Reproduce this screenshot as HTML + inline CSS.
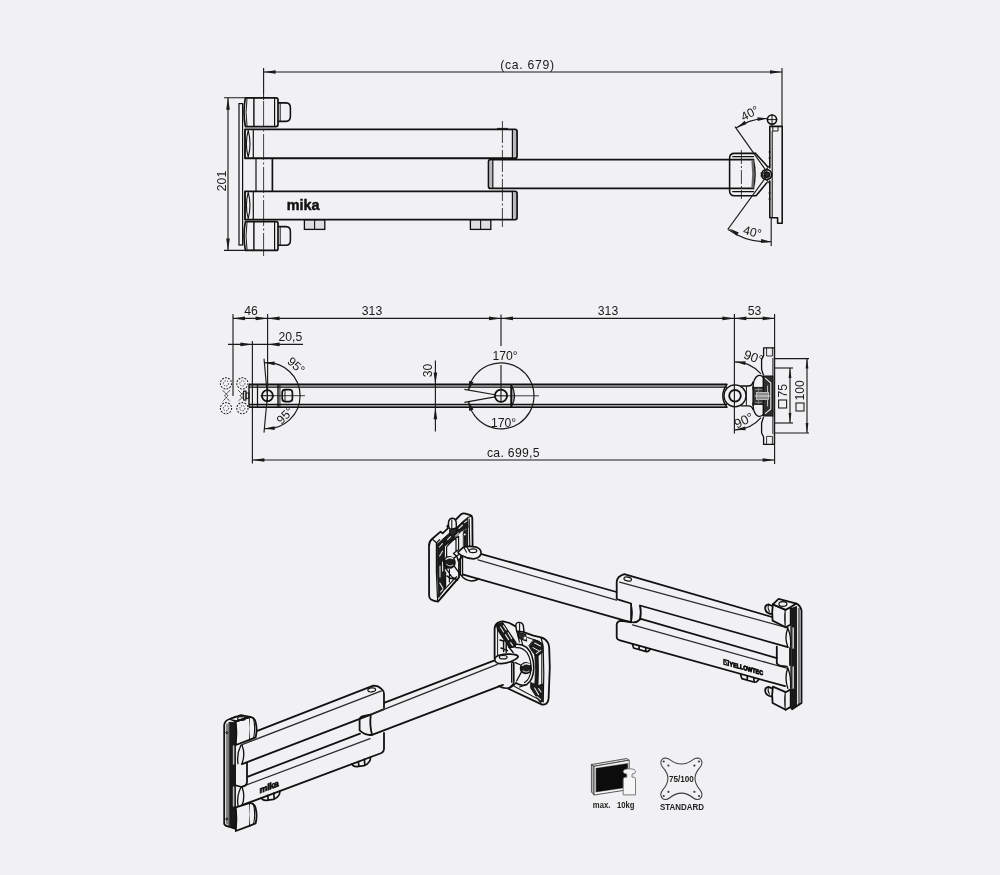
<!DOCTYPE html>
<html><head><meta charset="utf-8"><title>mika arm drawing</title>
<style>
html,body{margin:0;padding:0;background:#f1f1f4;}
body{width:1000px;height:875px;overflow:hidden;}
svg{display:block;font-family:"Liberation Sans",sans-serif;will-change:transform;}
</style></head><body>
<svg width="1000" height="875" viewBox="0 0 1000 875">
<rect width="1000" height="875" fill="#f1f1f4"/>
<g id="front-view">
<rect x="239.0" y="103.6" width="3.6" height="141.4" rx="0" fill="none" stroke="#111" stroke-width="1.2"/>
<path d="M245.4,97.9 H276 Q278,97.9 278,99.9 V124.6 Q278,126.6 276,126.6 H245.4 Q242.6,112.25 245.4,97.9 Z" fill="none" stroke="#111" stroke-width="1.68" stroke-linejoin="round" stroke-linecap="round" />
<path d="M247,98.9 Q245,112.25 247,125.6" fill="none" stroke="#111" stroke-width="0.96" stroke-linejoin="round" stroke-linecap="round" />
<line x1="253.9" y1="97.9" x2="253.9" y2="126.6" stroke="#111" stroke-width="1.44" />
<line x1="274.6" y1="97.9" x2="274.6" y2="126.6" stroke="#111" stroke-width="1.2" />
<path d="M278.4,102.9 H286 Q290.4,103.10000000000001 290.4,107.7 V116.60000000000001 Q290.4,121.2 286,121.4 H278.4" fill="none" stroke="#111" stroke-width="1.56" stroke-linejoin="round" stroke-linecap="round" />
<line x1="280.2" y1="102.9" x2="280.2" y2="121.4" stroke="#111" stroke-width="0.96" />
<path d="M245.4,221.6 H276 Q278,221.6 278,223.6 V248.4 Q278,250.4 276,250.4 H245.4 Q242.6,236.0 245.4,221.6 Z" fill="none" stroke="#111" stroke-width="1.68" stroke-linejoin="round" stroke-linecap="round" />
<path d="M247,222.6 Q245,236.0 247,249.4" fill="none" stroke="#111" stroke-width="0.96" stroke-linejoin="round" stroke-linecap="round" />
<line x1="253.9" y1="221.6" x2="253.9" y2="250.4" stroke="#111" stroke-width="1.44" />
<line x1="274.6" y1="221.6" x2="274.6" y2="250.4" stroke="#111" stroke-width="1.2" />
<path d="M278.4,226.6 H286 Q290.4,226.79999999999998 290.4,231.4 V240.39999999999998 Q290.4,245.0 286,245.2 H278.4" fill="none" stroke="#111" stroke-width="1.56" stroke-linejoin="round" stroke-linecap="round" />
<line x1="280.2" y1="226.6" x2="280.2" y2="245.2" stroke="#111" stroke-width="0.96" />
<path d="M245,129.4 H515 Q517,129.4 517,131.4 V156.2 Q517,158.2 515,158.2 H245 Z" fill="none" stroke="#111" stroke-width="1.86" stroke-linejoin="round" stroke-linecap="round" />
<line x1="514.6" y1="130.9" x2="514.6" y2="156.7" stroke="#b8b8bc" stroke-width="3.12" />
<line x1="512.4" y1="129.4" x2="512.4" y2="158.2" stroke="#111" stroke-width="1.2" />
<line x1="253.3" y1="129.4" x2="253.3" y2="158.2" stroke="#111" stroke-width="1.2" />
<path d="M248.2,130.4 Q244.6,143.8 248.2,157.2 Q251.8,143.8 248.2,130.4" fill="none" stroke="#111" stroke-width="1.08" stroke-linejoin="round" stroke-linecap="round" />
<path d="M245,191.4 H515 Q517,191.4 517,193.4 V217.6 Q517,219.6 515,219.6 H245 Z" fill="none" stroke="#111" stroke-width="1.86" stroke-linejoin="round" stroke-linecap="round" />
<line x1="514.6" y1="192.9" x2="514.6" y2="218.1" stroke="#b8b8bc" stroke-width="3.12" />
<line x1="512.4" y1="191.4" x2="512.4" y2="219.6" stroke="#111" stroke-width="1.2" />
<line x1="253.3" y1="191.4" x2="253.3" y2="219.6" stroke="#111" stroke-width="1.2" />
<path d="M248.2,192.4 Q244.6,205.5 248.2,218.6 Q251.8,205.5 248.2,192.4" fill="none" stroke="#111" stroke-width="1.08" stroke-linejoin="round" stroke-linecap="round" />
<line x1="256.0" y1="158.2" x2="256.0" y2="191.4" stroke="#111" stroke-width="1.2" />
<line x1="272.4" y1="158.2" x2="272.4" y2="191.4" stroke="#111" stroke-width="1.68" />
<path d="M753.4,159.6 H490.6 Q488.6,159.6 488.6,161.6 V186.4 Q488.6,188.4 490.6,188.4 H753.4" fill="none" stroke="#111" stroke-width="1.86" stroke-linejoin="round" stroke-linecap="round" />
<line x1="490.8" y1="161.2" x2="490.8" y2="186.8" stroke="#b8b8bc" stroke-width="2.88" />
<line x1="492.8" y1="159.6" x2="492.8" y2="188.4" stroke="#111" stroke-width="1.2" />
<rect x="304.4" y="220.0" width="20.4" height="9.4" rx="0" fill="#dedee2" stroke="#111" stroke-width="1.32"/>
<line x1="314.6" y1="220.0" x2="314.6" y2="229.4" stroke="#111" stroke-width="1.08" />
<rect x="470.4" y="220.0" width="20.4" height="9.4" rx="0" fill="#dedee2" stroke="#111" stroke-width="1.32"/>
<line x1="480.6" y1="220.0" x2="480.6" y2="229.4" stroke="#111" stroke-width="1.08" />
<text x="286.8" y="210.0" font-size="14.4" text-anchor="start" font-weight="bold" fill="#111" letter-spacing="0" stroke="#111" stroke-width="0.45">mika</text>
<path d="M755.6,153.4 H734.4 Q729.6,153.4 729.6,158.4 V190.8 Q729.6,195.8 734.4,195.8 H756 L767,182.6 M755.6,153.4 L767.4,166.4" fill="none" stroke="#111" stroke-width="1.56" stroke-linejoin="round" stroke-linecap="round" />
<path d="M732.6,156.6 H753.6 M732.6,191.6 H753.6" fill="none" stroke="#111" stroke-width="1.08" stroke-linejoin="round" stroke-linecap="round" />
<path d="M753.4,159.6 Q756.6,174 753.4,188.4" fill="none" stroke="#111" stroke-width="1.56" stroke-linejoin="round" stroke-linecap="round" />
<path d="M752.6,161 Q754.2,174 752.6,187" fill="none" stroke="#666" stroke-width="2.4" stroke-linejoin="round" stroke-linecap="round" />
<circle cx="766.6" cy="174.6" r="5.0" fill="none" stroke="#111" stroke-width="1.8" />
<circle cx="767.0" cy="174.8" r="2.6" fill="#2a2a2a" stroke="#111" stroke-width="1.2" />
<path d="M770,165 L761,176 M770,184 L761,173" fill="none" stroke="#111" stroke-width="1.08" stroke-linejoin="round" stroke-linecap="round" />
<path d="M769.8,126.4 H782.2 V223.2 H777.6 V217.8 H771 M769.8,126.4 V168 M769.8,181 V217.8" fill="none" stroke="#111" stroke-width="1.56" stroke-linejoin="round" stroke-linecap="round" />
<line x1="772.2" y1="131.0" x2="772.2" y2="217.8" stroke="#111" stroke-width="1.08" />
<path d="M772.8,126.4 V131 H778 V126.4" fill="none" stroke="#111" stroke-width="0.96" stroke-linejoin="round" stroke-linecap="round" />
<circle cx="769.6" cy="152.0" r="1.1" fill="#222" stroke="#111" stroke-width="0.0" />
<circle cx="769.6" cy="158.0" r="1.1" fill="#222" stroke="#111" stroke-width="0.0" />
<circle cx="769.6" cy="193.0" r="1.1" fill="#222" stroke="#111" stroke-width="0.0" />
<circle cx="769.6" cy="199.0" r="1.1" fill="#222" stroke="#111" stroke-width="0.0" />
<circle cx="772.0" cy="119.6" r="4.6" fill="none" stroke="#111" stroke-width="1.56" />
<line x1="772.0" y1="114.0" x2="772.0" y2="126.0" stroke="#111" stroke-width="0.96" />
<line x1="766.6" y1="119.6" x2="777.4" y2="119.6" stroke="#111" stroke-width="0.96" />
<line x1="497.0" y1="128.4" x2="508.0" y2="128.4" stroke="#111" stroke-width="0.96" />
<line x1="263.6" y1="68.0" x2="263.6" y2="256.0" stroke="#1a1a1a" stroke-width="0.84" stroke-dasharray="26 2.5 2 2.5"/>
<line x1="263.6" y1="68.0" x2="263.6" y2="100.0" stroke="#1a1a1a" stroke-width="0.96" />
<line x1="502.4" y1="121.0" x2="502.4" y2="227.0" stroke="#1a1a1a" stroke-width="0.84" stroke-dasharray="22 2.5 2 2.5"/>
<line x1="741.4" y1="150.0" x2="741.4" y2="199.0" stroke="#1a1a1a" stroke-width="0.84" stroke-dasharray="14 2 2 2"/>
<line x1="263.6" y1="72.0" x2="782.0" y2="72.0" stroke="#1a1a1a" stroke-width="1.14" />
<polygon points="263.6,72.0 275.6,73.8 275.6,70.2" fill="#1a1a1a"/>
<polygon points="782.0,72.0 770.0,70.2 770.0,73.8" fill="#1a1a1a"/>
<line x1="782.0" y1="68.0" x2="782.0" y2="127.0" stroke="#1a1a1a" stroke-width="1.14" />
<text x="527.5" y="69.2" font-size="12.2" text-anchor="middle" font-weight="normal" fill="#1a1a1a" letter-spacing="0.7" >(ca. 679)</text>
<line x1="224.0" y1="97.8" x2="262.0" y2="97.8" stroke="#1a1a1a" stroke-width="1.14" />
<line x1="224.0" y1="250.4" x2="262.0" y2="250.4" stroke="#1a1a1a" stroke-width="1.14" />
<line x1="228.0" y1="97.8" x2="228.0" y2="250.4" stroke="#1a1a1a" stroke-width="1.14" />
<polygon points="228.0,97.8 226.2,109.8 229.8,109.8" fill="#1a1a1a"/>
<polygon points="228.0,250.4 229.8,238.4 226.2,238.4" fill="#1a1a1a"/>
<text x="225.6" y="181.0" font-size="12.2" text-anchor="middle" font-weight="normal" fill="#1a1a1a" letter-spacing="0" transform="rotate(-90 225.6 181.0)" >201</text>
<line x1="735.0" y1="126.6" x2="767.0" y2="172.0" stroke="#1a1a1a" stroke-width="1.2" />
<path d="M736.0,128.0 A55.5,55.5 0 0 1 768.0,118.5" fill="none" stroke="#1a1a1a" stroke-width="1.2"/>
<polygon points="737.2,127.8 746.6,123.9 744.6,120.8" fill="#1a1a1a"/>
<polygon points="767.5,118.4 757.4,117.2 757.7,121.0" fill="#1a1a1a"/>
<text x="751.6" y="117.0" font-size="12.2" text-anchor="middle" font-weight="normal" fill="#1a1a1a" letter-spacing="0" transform="rotate(-27 751.6 117.0)" >40°</text>
<line x1="766.8" y1="176.0" x2="727.7" y2="229.5" stroke="#1a1a1a" stroke-width="1.2" />
<line x1="771.2" y1="217.8" x2="771.2" y2="246.0" stroke="#1a1a1a" stroke-width="1.14" />
<path d="M728.2,229.4 A66.5,66.5 0 0 0 770.9,241.7" fill="none" stroke="#1a1a1a" stroke-width="1.2"/>
<polygon points="729.4,228.6 736.6,235.8 738.8,232.6" fill="#1a1a1a"/>
<polygon points="771.0,241.7 761.2,239.1 760.9,242.9" fill="#1a1a1a"/>
<text x="751.4" y="236.0" font-size="12.2" text-anchor="middle" font-weight="normal" fill="#1a1a1a" letter-spacing="0" transform="rotate(14 751.4 236.0)" >40°</text>
</g>
<g id="top-view">
<rect x="249" y="384.6" width="478" height="2.8" fill="#a4a4a8"/><rect x="249" y="404.2" width="478" height="2.8" fill="#a4a4a8"/>
<line x1="249.0" y1="384.4" x2="727.0" y2="384.4" stroke="#111" stroke-width="1.56" />
<line x1="249.0" y1="387.2" x2="727.0" y2="387.2" stroke="#111" stroke-width="1.08" />
<line x1="249.0" y1="404.4" x2="727.0" y2="404.4" stroke="#111" stroke-width="1.08" />
<line x1="249.0" y1="407.2" x2="727.0" y2="407.2" stroke="#111" stroke-width="1.56" />
<line x1="249.0" y1="384.4" x2="249.0" y2="407.2" stroke="#111" stroke-width="1.44" />
<line x1="257.5" y1="384.4" x2="257.5" y2="407.2" stroke="#111" stroke-width="1.2" />
<line x1="278.0" y1="384.4" x2="278.0" y2="407.2" stroke="#111" stroke-width="1.44" />
<line x1="279.9" y1="384.4" x2="279.9" y2="407.2" stroke="#111" stroke-width="0.96" />
<circle cx="267.4" cy="395.7" r="5.5" fill="none" stroke="#111" stroke-width="1.8" />
<line x1="267.4" y1="389.0" x2="267.4" y2="402.4" stroke="#111" stroke-width="1.08" />
<line x1="260.6" y1="395.7" x2="274.0" y2="395.7" stroke="#111" stroke-width="1.08" />
<rect x="282.2" y="389.6" width="10.2" height="12.0" rx="3" fill="none" stroke="#111" stroke-width="1.68"/>
<line x1="285.0" y1="389.6" x2="285.0" y2="401.6" stroke="#111" stroke-width="0.96" />
<rect x="243.6" y="391.2" width="2.4" height="8.8" rx="0" fill="none" stroke="#111" stroke-width="1.08"/>
<rect x="246.0" y="393.0" width="3.0" height="5.4" rx="0" fill="none" stroke="#111" stroke-width="0.96"/>
<circle cx="226.0" cy="383.4" r="5.6" fill="none" stroke="#222" stroke-width="1.08" stroke-dasharray="1.8 1.3"/>
<circle cx="226.0" cy="383.4" r="2.6" fill="none" stroke="#333" stroke-width="0.96" stroke-dasharray="1.3 1.3"/>
<circle cx="242.4" cy="383.4" r="5.6" fill="none" stroke="#222" stroke-width="1.08" stroke-dasharray="1.8 1.3"/>
<circle cx="242.4" cy="383.4" r="2.6" fill="none" stroke="#333" stroke-width="0.96" stroke-dasharray="1.3 1.3"/>
<circle cx="226.0" cy="408.2" r="5.6" fill="none" stroke="#222" stroke-width="1.08" stroke-dasharray="1.8 1.3"/>
<circle cx="226.0" cy="408.2" r="2.6" fill="none" stroke="#333" stroke-width="0.96" stroke-dasharray="1.3 1.3"/>
<circle cx="242.4" cy="408.2" r="5.6" fill="none" stroke="#222" stroke-width="1.08" stroke-dasharray="1.8 1.3"/>
<circle cx="242.4" cy="408.2" r="2.6" fill="none" stroke="#333" stroke-width="0.96" stroke-dasharray="1.3 1.3"/>
<path d="M223,390.6 L228,395.8 L223,401 M229.6,390.6 L224.6,395.8 L229.6,401 M238.6,390.6 L243.6,395.8 L238.6,401 M245,390.6 L240,395.8 L245,401" fill="none" stroke="#333" stroke-width="0.96" stroke-linejoin="round" stroke-linecap="round" stroke-dasharray="1.5 1.3"/>
<circle cx="501.0" cy="395.8" r="6.1" fill="none" stroke="#111" stroke-width="1.8" />
<line x1="501.0" y1="389.0" x2="501.0" y2="402.6" stroke="#111" stroke-width="1.08" />
<line x1="494.0" y1="395.8" x2="508.0" y2="395.8" stroke="#111" stroke-width="1.08" />
<line x1="511.0" y1="384.4" x2="511.0" y2="407.2" stroke="#111" stroke-width="1.44" />
<path d="M511.6,385.4 Q517.5,396 511.6,406.4 Z" fill="#b4b4b8" stroke="#111" stroke-width="1.2" stroke-linejoin="round" stroke-linecap="round" />
<line x1="508.0" y1="395.8" x2="539.0" y2="395.8" stroke="#1a1a1a" stroke-width="0.84" />
<path d="M727,384.4 Q722.8,390 722.8,395.8 Q722.8,402 727,407.2" fill="none" stroke="#111" stroke-width="1.44" stroke-linejoin="round" stroke-linecap="round" />
<circle cx="735.0" cy="395.8" r="11" fill="none" stroke="#111" stroke-width="1.32" />
<circle cx="735.0" cy="395.8" r="5.8" fill="none" stroke="#111" stroke-width="1.86" />
<path d="M741,386 H748 Q752,386 753,382 M741,405.8 H748 Q752,405.8 753,409.6" fill="none" stroke="#111" stroke-width="1.32" stroke-linejoin="round" stroke-linecap="round" />
<line x1="746.4" y1="386.0" x2="746.4" y2="405.8" stroke="#111" stroke-width="0.96" />
<path d="M753,389 Q753,378 758,375.6 Q762,374.6 763.4,378 V414 Q762,417 758,416.2 Q753,414 753,403" fill="none" stroke="#111" stroke-width="1.32" stroke-linejoin="round" stroke-linecap="round" />
<path d="M753,386 V405.8" fill="none" stroke="#111" stroke-width="1.2" stroke-linejoin="round" stroke-linecap="round" />
<rect x="753.6" y="387.4" width="9.8" height="17.0" rx="0" fill="#3a3a3a" stroke="#111" stroke-width="0.96"/>
<path d="M763.4,376 H773 V416 H763.4 Z" fill="#2e2e2e" stroke="#111" stroke-width="1.2" stroke-linejoin="round" stroke-linecap="round" />
<path d="M765.4,378.4 L770.8,383 V409 L765.4,413.4" fill="none" stroke="#e8e8e8" stroke-width="1.08" stroke-linejoin="round" stroke-linecap="round" />
<path d="M767.6,386 V392 M767.6,400 V406" fill="none" stroke="#ccc" stroke-width="0.96" stroke-linejoin="round" stroke-linecap="round" />
<rect x="756.6" y="392.4" width="11.8" height="7.2" rx="0" fill="#8a8a8a" stroke="#ddd" stroke-width="0.72"/>
<line x1="754.6" y1="396.0" x2="770.6" y2="396.0" stroke="#eee" stroke-width="0.84" />
<path d="M755.4,389.6 H762 M755.4,402.4 H762 M758.6,388 V404" fill="none" stroke="#999" stroke-width="0.72" stroke-linejoin="round" stroke-linecap="round" />
<path d="M763.6,347.8 H774.4 V444.4 H763.6 V437 L761.6,433 V423 L763.4,417.4 M763.4,375 L761.6,369.4 V359.6 L763.6,355.6 V347.8" fill="none" stroke="#111" stroke-width="1.32" stroke-linejoin="round" stroke-linecap="round" />
<path d="M766.6,347.8 V356 H772.4 V347.8 M766.6,444.4 V436.4 H772.4 V444.4" fill="none" stroke="#111" stroke-width="0.84" stroke-linejoin="round" stroke-linecap="round" />
<line x1="772.8" y1="358.0" x2="772.8" y2="376.0" stroke="#111" stroke-width="0.84" />
<line x1="772.8" y1="416.0" x2="772.8" y2="434.0" stroke="#111" stroke-width="0.84" />
<line x1="233.0" y1="318.4" x2="774.6" y2="318.4" stroke="#1a1a1a" stroke-width="1.14" />
<line x1="233.0" y1="314.0" x2="233.0" y2="396.0" stroke="#1a1a1a" stroke-width="1.14" />
<line x1="267.6" y1="314.0" x2="267.6" y2="390.0" stroke="#1a1a1a" stroke-width="1.14" />
<line x1="501.0" y1="314.4" x2="501.0" y2="346.0" stroke="#1a1a1a" stroke-width="1.14" />
<line x1="501.0" y1="365.0" x2="501.0" y2="390.0" stroke="#1a1a1a" stroke-width="1.14" />
<line x1="734.4" y1="314.0" x2="734.4" y2="433.6" stroke="#1a1a1a" stroke-width="1.14" />
<line x1="774.6" y1="314.0" x2="774.6" y2="464.0" stroke="#1a1a1a" stroke-width="1.14" />
<polygon points="233.0,318.4 245.0,320.2 245.0,316.6" fill="#1a1a1a"/>
<polygon points="267.6,318.4 255.6,316.6 255.6,320.2" fill="#1a1a1a"/>
<polygon points="267.6,318.4 279.6,320.2 279.6,316.6" fill="#1a1a1a"/>
<polygon points="501.0,318.4 489.0,316.6 489.0,320.2" fill="#1a1a1a"/>
<polygon points="501.0,318.4 513.0,320.2 513.0,316.6" fill="#1a1a1a"/>
<polygon points="734.4,318.4 722.4,316.6 722.4,320.2" fill="#1a1a1a"/>
<polygon points="734.4,318.4 746.4,320.2 746.4,316.6" fill="#1a1a1a"/>
<polygon points="774.6,318.4 762.6,316.6 762.6,320.2" fill="#1a1a1a"/>
<text x="251.0" y="315.4" font-size="12.2" text-anchor="middle" font-weight="normal" fill="#1a1a1a" letter-spacing="0" >46</text>
<text x="372.0" y="315.4" font-size="12.2" text-anchor="middle" font-weight="normal" fill="#1a1a1a" letter-spacing="0" >313</text>
<text x="608.0" y="315.4" font-size="12.2" text-anchor="middle" font-weight="normal" fill="#1a1a1a" letter-spacing="0" >313</text>
<text x="754.6" y="315.4" font-size="12.2" text-anchor="middle" font-weight="normal" fill="#1a1a1a" letter-spacing="0" >53</text>
<line x1="228.0" y1="344.4" x2="303.0" y2="344.4" stroke="#1a1a1a" stroke-width="1.14" />
<line x1="252.4" y1="341.0" x2="252.4" y2="463.6" stroke="#1a1a1a" stroke-width="1.14" />
<polygon points="252.4,344.4 240.4,342.6 240.4,346.2" fill="#1a1a1a"/>
<polygon points="267.6,344.4 279.6,346.2 279.6,342.6" fill="#1a1a1a"/>
<text x="290.4" y="341.4" font-size="12.2" text-anchor="middle" font-weight="normal" fill="#1a1a1a" letter-spacing="0" >20,5</text>
<path d="M264.5,362.8 A33,33 0 1 1 264.5,428.6" fill="none" stroke="#1a1a1a" stroke-width="1.2"/>
<line x1="267.4" y1="395.7" x2="264.0" y2="358.8" stroke="#1a1a1a" stroke-width="1.14" />
<line x1="267.4" y1="395.7" x2="264.0" y2="432.6" stroke="#1a1a1a" stroke-width="1.14" />
<polygon points="264.6,362.8 274.5,365.2 274.7,361.4" fill="#1a1a1a"/>
<polygon points="264.6,428.6 274.7,430.0 274.5,426.2" fill="#1a1a1a"/>
<line x1="273.0" y1="395.7" x2="305.0" y2="395.7" stroke="#1a1a1a" stroke-width="0.84" />
<text x="293.4" y="368.6" font-size="12.2" text-anchor="middle" font-weight="normal" fill="#1a1a1a" letter-spacing="0" transform="rotate(42 293.4 368.6)" >95°</text>
<text x="288.0" y="418.4" font-size="12.2" text-anchor="middle" font-weight="normal" fill="#1a1a1a" letter-spacing="0" transform="rotate(-45 288.0 418.4)" >95°</text>
<path d="M468.5,390.1 A33,33 0 1 1 468.5,401.5" fill="none" stroke="#1a1a1a" stroke-width="1.2"/>
<line x1="495.0" y1="394.7" x2="464.4" y2="389.4" stroke="#1a1a1a" stroke-width="1.14" />
<line x1="495.0" y1="396.9" x2="464.4" y2="402.4" stroke="#1a1a1a" stroke-width="1.14" />
<polygon points="468.6,390.0 473.6,382.2 469.2,380.7" fill="#1a1a1a"/>
<polygon points="468.6,401.6 469.2,410.9 473.6,409.4" fill="#1a1a1a"/>
<text x="505.0" y="360.0" font-size="12.2" text-anchor="middle" font-weight="normal" fill="#1a1a1a" letter-spacing="0" >170°</text>
<text x="503.5" y="427.0" font-size="12.2" text-anchor="middle" font-weight="normal" fill="#1a1a1a" letter-spacing="0" >170°</text>
<line x1="435.4" y1="360.4" x2="435.4" y2="431.6" stroke="#1a1a1a" stroke-width="1.14" />
<polygon points="435.4,384.4 437.2,372.4 433.6,372.4" fill="#1a1a1a"/>
<polygon points="435.4,407.2 433.6,419.2 437.2,419.2" fill="#1a1a1a"/>
<text x="432.0" y="370.5" font-size="12.2" text-anchor="middle" font-weight="normal" fill="#1a1a1a" letter-spacing="0" transform="rotate(-90 432.0 370.5)" >30</text>
<line x1="252.4" y1="460.0" x2="774.6" y2="460.0" stroke="#1a1a1a" stroke-width="1.14" />
<polygon points="252.4,460.0 264.4,461.8 264.4,458.2" fill="#1a1a1a"/>
<polygon points="774.6,460.0 762.6,458.2 762.6,461.8" fill="#1a1a1a"/>
<text x="513.4" y="457.2" font-size="12.2" text-anchor="middle" font-weight="normal" fill="#1a1a1a" letter-spacing="0.3" >ca. 699,5</text>
<path d="M735.0,361.8 A34,34 0 0 1 761.0,373.9" fill="none" stroke="#1a1a1a" stroke-width="1.2"/>
<path d="M735.0,429.8 A34,34 0 0 0 761.0,417.7" fill="none" stroke="#1a1a1a" stroke-width="1.2"/>
<polygon points="735.5,361.8 745.1,365.1 745.7,361.3" fill="#1a1a1a"/>
<polygon points="735.5,429.8 745.7,430.3 745.1,426.5" fill="#1a1a1a"/>
<text x="752.0" y="361.4" font-size="13" text-anchor="middle" font-weight="normal" fill="#1a1a1a" letter-spacing="0" transform="rotate(20 752.0 361.4)" >90°</text>
<text x="745.6" y="424.5" font-size="13" text-anchor="middle" font-weight="normal" fill="#1a1a1a" letter-spacing="0" transform="rotate(-25 745.6 424.5)" >90°</text>
<line x1="775.0" y1="368.0" x2="793.0" y2="368.0" stroke="#1a1a1a" stroke-width="1.14" />
<line x1="775.0" y1="423.0" x2="793.0" y2="423.0" stroke="#1a1a1a" stroke-width="1.14" />
<line x1="790.0" y1="368.0" x2="790.0" y2="423.0" stroke="#1a1a1a" stroke-width="1.14" />
<polygon points="790.0,368.0 788.6,378.0 791.4,378.0" fill="#1a1a1a"/>
<polygon points="790.0,423.0 791.4,413.0 788.6,413.0" fill="#1a1a1a"/>
<line x1="775.0" y1="358.6" x2="809.0" y2="358.6" stroke="#1a1a1a" stroke-width="1.14" />
<line x1="775.0" y1="433.0" x2="809.0" y2="433.0" stroke="#1a1a1a" stroke-width="1.14" />
<line x1="807.0" y1="358.6" x2="807.0" y2="433.0" stroke="#1a1a1a" stroke-width="1.14" />
<polygon points="807.0,358.6 805.6,368.6 808.4,368.6" fill="#1a1a1a"/>
<polygon points="807.0,433.0 808.4,423.0 805.6,423.0" fill="#1a1a1a"/>
<rect x="778.6" y="400.0" width="8.0" height="8.0" rx="0" fill="none" stroke="#1a1a1a" stroke-width="1.08"/>
<text x="787.0" y="397.5" font-size="12.2" text-anchor="start" font-weight="normal" fill="#1a1a1a" letter-spacing="0" transform="rotate(-90 787.0 397.5)" >75</text>
<rect x="796.0" y="403.0" width="8.0" height="8.0" rx="0" fill="none" stroke="#1a1a1a" stroke-width="1.08"/>
<text x="804.4" y="400.5" font-size="12.2" text-anchor="start" font-weight="normal" fill="#1a1a1a" letter-spacing="0" transform="rotate(-90 804.4 400.5)" >100</text>
</g>
<g id="iso-upper">
<path d="M481.5,554.1 L616.5,592 M463.4,574.6 L631.1,622.4" fill="none" stroke="#111" stroke-width="1.8" stroke-linejoin="round" stroke-linecap="round" />
<path d="M478,559.8 L616.5,600.2" fill="none" stroke="#2a2a2a" stroke-width="1.26" stroke-linejoin="round" stroke-linecap="round" />
<path d="M616.7,598.4 V582 Q616.9,576.4 624.3,574.2 L772,617 M616.7,598.4 Q617,599.4 620,600.2 L631,603.5" fill="none" stroke="#111" stroke-width="1.8" stroke-linejoin="round" stroke-linecap="round" />
<path d="M619.5,582.2 L787.8,627.9" fill="none" stroke="#2a2a2a" stroke-width="1.26" stroke-linejoin="round" stroke-linecap="round" />
<path d="M640,605.5 L787.8,647.1" fill="none" stroke="#111" stroke-width="1.8" stroke-linejoin="round" stroke-linecap="round" />
<ellipse cx="627.7" cy="579.0" rx="3.8" ry="2.0" fill="none" stroke="#111" stroke-width="1.2" transform="rotate(12 627.7 579.0)"/>
<path d="M631.1,604.2 V622 Q636,623.5 640,619.5 Q641.6,612 640,605.8" fill="none" stroke="#111" stroke-width="1.8" stroke-linejoin="round" stroke-linecap="round" />
<path d="M631.1,604.2 Q633.5,613 631.1,622" fill="none" stroke="#111" stroke-width="1.08" stroke-linejoin="round" stroke-linecap="round" />
<path d="M640,618.6 L776.8,658.1" fill="none" stroke="#111" stroke-width="1.8" stroke-linejoin="round" stroke-linecap="round" />
<path d="M616.7,624.5 V637 Q616.9,639.6 620,640.4 L785,686.2 M616.7,624.5 Q617.2,621 621,620.8 L631.1,622" fill="none" stroke="#111" stroke-width="1.8" stroke-linejoin="round" stroke-linecap="round" />
<path d="M632.5,624.8 L787.8,668.5" fill="none" stroke="#2a2a2a" stroke-width="1.26" stroke-linejoin="round" stroke-linecap="round" />
<path d="M632.4,643.8 L633.6,648.0 L646.4,651.5999999999999 Q648.0,651.8 649.0,650.5999999999999 L650.4,649.0 M639.0,645.8 L639.1999999999999,649.5999999999999 M645.6,647.5999999999999 L646.0,651.4" fill="none" stroke="#111" stroke-width="1.68" stroke-linejoin="round" stroke-linecap="round" />
<path d="M740.6,674.4 L741.8000000000001,678.6 L754.6,682.1999999999999 Q756.2,682.4 757.2,681.1999999999999 L758.6,679.6 M747.2,676.4 L747.4,680.1999999999999 M753.8000000000001,678.1999999999999 L754.2,682.0" fill="none" stroke="#111" stroke-width="1.68" stroke-linejoin="round" stroke-linecap="round" />
<g transform="translate(723.4,658.9) skewY(15.4)">
<rect x="0.5" y="0.5" width="4.5" height="4.7" rx="0" fill="none" stroke="#111" stroke-width="1.32"/>
<path d="M1.4,1.4 L3.8,4.2" fill="none" stroke="#111" stroke-width="1.08" stroke-linejoin="round" stroke-linecap="round" />
<text x="6.2" y="5.4" font-size="6.4" text-anchor="start" font-weight="bold" fill="#0c0c0c" letter-spacing="0" stroke="#0c0c0c" stroke-width="0.85" textLength="33.4" lengthAdjust="spacingAndGlyphs">YELLOWTEC</text>
</g>
<path d="M776.8,646.6 V663 Q777.4,665.4 781,665.8 L787,666.6 M790,648 V665" fill="none" stroke="#111" stroke-width="1.8" stroke-linejoin="round" stroke-linecap="round" />
<path d="M787.8,628 Q784.2,637.6 787.8,647.2 M787.8,628 Q791.4,636.6 790.6,646.2" fill="none" stroke="#111" stroke-width="1.32" stroke-linejoin="round" stroke-linecap="round" />
<path d="M787.8,667.8 Q784.2,678.0999999999999 787.8,688.4 M787.8,667.8 Q791.4,677.0999999999999 790.6,687.4" fill="none" stroke="#111" stroke-width="1.32" stroke-linejoin="round" stroke-linecap="round" />
<path d="M790.8,606 L796.4,603.6 Q800.6,605.4 801.5,610.7 V702.9 L792.1,709.3" fill="none" stroke="#111" stroke-width="1.8" stroke-linejoin="round" stroke-linecap="round" />
<path d="M791.2,608.6 L796.6,606.6 V706.4 L791.2,708.6 Z" fill="#1a1a1a" stroke="#111" stroke-width="0.96" stroke-linejoin="round" stroke-linecap="round" />
<path d="M799,608.6 V704.6" fill="none" stroke="#111" stroke-width="1.08" stroke-linejoin="round" stroke-linecap="round" />
<path d="M793.2,628 V648 M793.2,667 V688" fill="none" stroke="#bbb" stroke-width="1.68" stroke-linejoin="round" stroke-linecap="round" />
<path d="M772.9,604.3 Q771.6,612 772.6,620.6 L785.7,627.3 Q784.4,617 785.7,609.8 Z" fill="#f1f1f4" stroke="#111" stroke-width="1.8" stroke-linejoin="round" stroke-linecap="round" />
<path d="M785.7,609.8 L790.7,607 V624.5 L785.7,627.3" fill="#f1f1f4" stroke="#111" stroke-width="1.8" stroke-linejoin="round" stroke-linecap="round" />
<path d="M772.2,606 L768.4,604.4 Q764.6,605 765.2,609 Q766,613.4 772.2,614.2" fill="none" stroke="#111" stroke-width="1.8" stroke-linejoin="round" stroke-linecap="round" />
<path d="M768.4,604.4 Q767.2,608 769.4,611.6" fill="none" stroke="#111" stroke-width="1.08" stroke-linejoin="round" stroke-linecap="round" />
<path d="M772.9,686.6999999999999 Q771.6,694.4 772.6,703.0 L785.7,709.6999999999999 Q784.4,699.4 785.7,692.1999999999999 Z" fill="#f1f1f4" stroke="#111" stroke-width="1.8" stroke-linejoin="round" stroke-linecap="round" />
<path d="M785.7,692.1999999999999 L790.7,689.4 V706.9 L785.7,709.6999999999999" fill="#f1f1f4" stroke="#111" stroke-width="1.8" stroke-linejoin="round" stroke-linecap="round" />
<path d="M772.2,688.4 L768.4,686.8 Q764.6,687.4 765.2,691.4 Q766,695.8 772.2,696.6" fill="none" stroke="#111" stroke-width="1.8" stroke-linejoin="round" stroke-linecap="round" />
<path d="M768.4,686.8 Q767.2,690.4 769.4,694.0" fill="none" stroke="#111" stroke-width="1.08" stroke-linejoin="round" stroke-linecap="round" />
<path d="M772.9,604.3 L778.6,598.9 L796.4,603.6 L790.7,607 L785.7,609.8 Z" fill="#f1f1f4" stroke="#111" stroke-width="1.8" stroke-linejoin="round" stroke-linecap="round" />
<ellipse cx="782.9" cy="604.0" rx="4" ry="2.4" fill="none" stroke="#111" stroke-width="1.2" transform="rotate(0 782.9 604.0)"/>
</g>
<g id="iso-upper-head">
<path d="M429,546 Q429,541.4 432,539 L440.6,531.6 L442.6,533.4 L447.9,528.4 L447.4,526 L456.4,519 L461.2,514.2 Q462.8,513 465.4,513.6 L470.4,515.2 Q472.2,515.8 472.3,518 L472.6,548 L459,559.6 V577.4 L438,601.6 Q433.6,601.4 431,599.6 Q429.1,598.2 429.1,595.6 Z" fill="#f1f1f4" stroke="#111" stroke-width="1.8" stroke-linejoin="round" stroke-linecap="round" />
<path d="M436.4,542.8 Q435.8,572 437.6,601 M436.4,542.8 L439.6,539.6 M432.2,539 L436.4,542.8" fill="none" stroke="#111" stroke-width="1.2" stroke-linejoin="round" stroke-linecap="round" />
<path d="M437.4,544 L444.6,537.4 L444.4,560 L445.2,588.6 L438.6,597.6 Q437,572 437.4,544 Z" fill="#1c1c1c" stroke="#111" stroke-width="0.84" stroke-linejoin="round" stroke-linecap="round" />
<path d="M439.4,547 L442.4,543.6 M439.6,556 L442.6,551 M440,566 V577 M439.8,583 L443,588.4 M442.6,562 V571 M440.4,592 L442.6,589.6" fill="none" stroke="#e6e6e6" stroke-width="1.08" stroke-linejoin="round" stroke-linecap="round" />
<path d="M444.6,537.4 L450,532.6 L456,528 L462.6,521.6 L467.6,517.6 L468.2,527.6 L461.4,531 L452.6,540 L445,546 Z" fill="#1c1c1c" stroke="#111" stroke-width="0.84" stroke-linejoin="round" stroke-linecap="round" />
<path d="M447.6,539.6 L450.6,536.6 M453,534.6 L456.6,531.4 M459,528.4 L462.6,525 M464.6,522.6 L466.8,520.8 M455.6,536 L458.4,533" fill="none" stroke="#e6e6e6" stroke-width="1.08" stroke-linejoin="round" stroke-linecap="round" />
<path d="M467.6,517.6 L470.6,516.4 M469.2,519 L469.8,547.6 M467.6,528 V549.6" fill="none" stroke="#111" stroke-width="1.08" stroke-linejoin="round" stroke-linecap="round" />
<path d="M463.6,531 L466.8,529.6 V549.4 L463.6,551.6 Z" fill="#1c1c1c" stroke="#111" stroke-width="0.72" stroke-linejoin="round" stroke-linecap="round" />
<circle cx="464.8" cy="534.4" r="1.5" fill="#eee" stroke="#111" stroke-width="0.96" />
<path d="M445.2,588.6 L456.6,576.6 M440.6,598.4 L458,578.6" fill="none" stroke="#111" stroke-width="1.2" stroke-linejoin="round" stroke-linecap="round" />
<path d="M446.6,547 Q452,540 458.6,536.4 V549.6 L454,553 M446.6,547 V556 M456,537.6 V551" fill="none" stroke="#111" stroke-width="1.2" stroke-linejoin="round" stroke-linecap="round" />
<path d="M446.6,556 Q445.4,562 446.6,569 M453.6,553.6 Q457.6,556 458.2,561 M447,576 Q451,580 456,578" fill="none" stroke="#111" stroke-width="1.44" stroke-linejoin="round" stroke-linecap="round" />
<path d="M448.6,526 Q447.6,519.4 451.6,518.2 Q455.6,517.8 456.2,522.4 L456.4,527.6 Q453,529.6 449.4,528.6 Z" fill="#f1f1f4" stroke="#111" stroke-width="1.44" stroke-linejoin="round" stroke-linecap="round" />
<path d="M451.8,519.8 V528 M449.6,530 L456.4,528.4 V533.6 L450,535.6 Z" fill="#2a2a2a" stroke="#111" stroke-width="1.08" stroke-linejoin="round" stroke-linecap="round" />
<circle cx="449.4" cy="562.4" r="5.6" fill="#1c1c1c" stroke="#111" stroke-width="1.56" />
<path d="M446,559.2 Q449.4,556.6 453.4,558.6" fill="none" stroke="#f0f0f0" stroke-width="1.32" stroke-linejoin="round" stroke-linecap="round" />
<path d="M446.6,564.4 Q449.8,567 453,565" fill="none" stroke="#aaa" stroke-width="1.08" stroke-linejoin="round" stroke-linecap="round" />
<path d="M445.2,567.6 L452,577 L457.6,580.4 M445.6,572 V586 M449.4,569.6 V582 M443.9,578 L445.2,588.6" fill="none" stroke="#111" stroke-width="1.2" stroke-linejoin="round" stroke-linecap="round" />
<path d="M453.6,558.4 L458.4,554.8 M454.4,566.4 L460.4,574.7" fill="none" stroke="#111" stroke-width="1.32" stroke-linejoin="round" stroke-linecap="round" />
<path d="M458,552.2 L462.6,547.8 Q465.6,546.2 470.6,546.4 L476.6,547.2 Q481.4,549 481,553.4 Q480.2,558.2 473.4,558.8 Q467.6,558.8 461.4,555.6 Q458.2,554 458,552.2 Z" fill="#f1f1f4" stroke="#111" stroke-width="1.68" stroke-linejoin="round" stroke-linecap="round" />
<ellipse cx="473.0" cy="550.7" rx="3.8" ry="1.9" fill="none" stroke="#111" stroke-width="1.2" transform="rotate(0 473.0 550.7)"/>
<path d="M463.8,547.4 L466.6,552.2 M466.6,546.6 L469.4,551.2" fill="none" stroke="#111" stroke-width="1.08" stroke-linejoin="round" stroke-linecap="round" />
<path d="M460.6,555.4 V574.7 M462.6,556.6 V575.4" fill="none" stroke="#111" stroke-width="1.2" stroke-linejoin="round" stroke-linecap="round" />
<path d="M460.6,574.7 Q464.6,580.6 471.6,581 Q476.4,581 478.6,578.6" fill="none" stroke="#111" stroke-width="1.44" stroke-linejoin="round" stroke-linecap="round" />
</g>
<g id="iso-lower">
<path d="M256,731.4 L373.3,685.7 Q378,685.6 381.5,688.9 Q384,691 384,694 V707.6 M242,764.2 L370.8,714.7 L384,709.2" fill="none" stroke="#111" stroke-width="1.8" stroke-linejoin="round" stroke-linecap="round" />
<path d="M242,744.6 L381.5,690.8" fill="none" stroke="#2a2a2a" stroke-width="1.26" stroke-linejoin="round" stroke-linecap="round" />
<ellipse cx="371.7" cy="689.9" rx="3.9" ry="2.0" fill="none" stroke="#111" stroke-width="1.2" transform="rotate(-8 371.7 689.9)"/>
<path d="M248,776.6 L360,733.6" fill="none" stroke="#111" stroke-width="1.8" stroke-linejoin="round" stroke-linecap="round" />
<path d="M242,786.6 L370,738.6" fill="none" stroke="#2a2a2a" stroke-width="1.26" stroke-linejoin="round" stroke-linecap="round" />
<path d="M242,805.2 L381.5,753 Q384,751.6 384,749 V733" fill="none" stroke="#111" stroke-width="1.8" stroke-linejoin="round" stroke-linecap="round" />
<path d="M372,734.8 Q366,736 359.6,730.4 V719.6 Q360.4,716.4 364,716 L370.8,714.7 M372,734.8 Q369.4,725 370.8,714.7" fill="none" stroke="#111" stroke-width="1.8" stroke-linejoin="round" stroke-linecap="round" />
<path d="M384.7,702.7 L494.6,660.3 M372,734.8 L503,684.9" fill="none" stroke="#111" stroke-width="1.8" stroke-linejoin="round" stroke-linecap="round" />
<path d="M370.8,714.7 L497.4,664.3" fill="none" stroke="#2a2a2a" stroke-width="1.26" stroke-linejoin="round" stroke-linecap="round" />
<path d="M352,764 Q353,766.8 357,766.6 L364,765.6 Q368.6,764 370.2,760 L370.4,757.2 M358.4,761.6 L358.8,766.4 M364.4,759.4 L364.8,765.4" fill="none" stroke="#111" stroke-width="1.68" stroke-linejoin="round" stroke-linecap="round" />
<path d="M261.4,797.8 Q262.4,800.5999999999999 266.4,800.4 L273.4,799.4 Q278.0,797.8 279.59999999999997,793.8 L279.79999999999995,791.0 M267.79999999999995,795.4 L268.2,800.1999999999999 M273.79999999999995,793.1999999999999 L274.2,799.1999999999999" fill="none" stroke="#111" stroke-width="1.68" stroke-linejoin="round" stroke-linecap="round" />
<g transform="translate(259.6,793.4) skewY(-21)">
<text x="0.0" y="0.0" font-size="9" text-anchor="start" font-weight="bold" fill="#111" letter-spacing="-0.45" stroke="#111" stroke-width="0.7">mika</text>
</g>
<path d="M247,763 V782.4 M234.6,764 V785 L241.6,787 Q246.6,786 247,782.4" fill="none" stroke="#111" stroke-width="1.8" stroke-linejoin="round" stroke-linecap="round" />
<path d="M242,745 Q245.6,754.3 242,763.6 M241,745 Q236.4,754.3 238,763.6" fill="none" stroke="#111" stroke-width="1.32" stroke-linejoin="round" stroke-linecap="round" />
<path d="M242,787 Q245.6,796.3 242,805.6 M241,787 Q236.4,796.3 238,805.6" fill="none" stroke="#111" stroke-width="1.32" stroke-linejoin="round" stroke-linecap="round" />
<path d="M236,716.6 L229.9,719 Q224.6,720.4 224.2,725 V823.9 Q225,826 229.9,826.8 L235.8,829" fill="none" stroke="#111" stroke-width="1.8" stroke-linejoin="round" stroke-linecap="round" />
<path d="M229.3,722.4 H235.4 V828.4 L229.3,826.6 Z" fill="#1a1a1a" stroke="#111" stroke-width="0.96" stroke-linejoin="round" stroke-linecap="round" />
<path d="M227,724 V824" fill="none" stroke="#111" stroke-width="0.96" stroke-linejoin="round" stroke-linecap="round" />
<path d="M233.6,746 V764 M233.6,787 V806" fill="none" stroke="#bbb" stroke-width="1.56" stroke-linejoin="round" stroke-linecap="round" />
<circle cx="226.8" cy="732.6" r="1.0" fill="none" stroke="#111" stroke-width="0.96" />
<circle cx="226.8" cy="819.0" r="1.0" fill="none" stroke="#111" stroke-width="0.96" />
<path d="M235.8,721.4 Q237,732 235.8,745 L250,739.6 Q251.4,728 250,716.8 Z" fill="#f1f1f4" stroke="#111" stroke-width="1.8" stroke-linejoin="round" stroke-linecap="round" />
<path d="M250,716.8 Q254.4,717.4 255.6,722 Q257.6,730 255.6,737.4 L250,739.6" fill="#f1f1f4" stroke="#111" stroke-width="1.8" stroke-linejoin="round" stroke-linecap="round" />
<path d="M253.4,717.8 Q255.8,728 253.6,738" fill="none" stroke="#111" stroke-width="1.08" stroke-linejoin="round" stroke-linecap="round" />
<path d="M235.8,807.4 Q237,818 235.8,831 L250,825.6 Q251.4,814 250,802.8 Z" fill="#f1f1f4" stroke="#111" stroke-width="1.8" stroke-linejoin="round" stroke-linecap="round" />
<path d="M250,802.8 Q254.4,803.4 255.6,808 Q257.6,816 255.6,823.4 L250,825.6" fill="#f1f1f4" stroke="#111" stroke-width="1.8" stroke-linejoin="round" stroke-linecap="round" />
<path d="M253.4,803.8 Q255.8,814 253.6,824" fill="none" stroke="#111" stroke-width="1.08" stroke-linejoin="round" stroke-linecap="round" />
<path d="M235.8,721.4 L229.9,719 L241,715.1 L250,716.8 Z" fill="#f1f1f4" stroke="#111" stroke-width="1.8" stroke-linejoin="round" stroke-linecap="round" />
<path d="M235.8,721.4 L250,716.8" fill="none" stroke="#111" stroke-width="1.8" stroke-linejoin="round" stroke-linecap="round" />
<ellipse cx="241.4" cy="718.6" rx="3.8" ry="1.9" fill="none" stroke="#111" stroke-width="1.2" transform="rotate(0 241.4 718.6)"/>
</g>
<g id="iso-lower-head">
<path d="M494.6,658.4 L494.6,628.6 Q494.8,625 497.8,622.8 Q500.4,621.2 503.1,621.4 L509.5,623 L516,626.6 L524.2,632.4 L533.4,635.6 L541,637.3 Q545.6,638.6 547.5,642.1 Q549,644.4 549.2,647.6 L549.8,667 L548.6,698.6 Q548.2,702 546.5,703.5 Q544.6,704.8 542.1,704.6 L508.5,688.8 L513.6,684 V662.6 L499,657 Z" fill="#f1f1f4" stroke="#111" stroke-width="1.8" stroke-linejoin="round" stroke-linecap="round" />
<path d="M543.2,646.5 Q544.4,674 543.2,701.9 M541,637.3 L543.2,646.5" fill="none" stroke="#111" stroke-width="1.2" stroke-linejoin="round" stroke-linecap="round" />
<path d="M514.6,686.4 L539,699.6" fill="none" stroke="#111" stroke-width="1.08" stroke-linejoin="round" stroke-linecap="round" />
<path d="M497.6,627.6 V656.6" fill="none" stroke="#111" stroke-width="0.96" stroke-linejoin="round" stroke-linecap="round" />
<path d="M496.4,624.6 L502.6,622.6 L516,642.6 L515.4,647 L509.4,647.6 L497.4,629.4 Z" fill="#1c1c1c" stroke="#111" stroke-width="1.08" stroke-linejoin="round" stroke-linecap="round" />
<path d="M500.4,627 L503.6,632 M505.4,634.6 L508.6,639.6 M503.4,625.6 L506.2,630 M508,632.8 L511.6,638.6 M510.6,642.6 L512.6,645.4" fill="none" stroke="#e6e6e6" stroke-width="1.08" stroke-linejoin="round" stroke-linecap="round" />
<path d="M503.6,641 V651.6 M506.2,643.6 V652.4 M501,648 L507.6,650.6" fill="none" stroke="#111" stroke-width="1.44" stroke-linejoin="round" stroke-linecap="round" />
<path d="M508.6,646.6 L513,652.4 M500,640 L503.6,641" fill="none" stroke="#111" stroke-width="1.56" stroke-linejoin="round" stroke-linecap="round" />
<path d="M516,627 Q515.2,622.8 518.6,622.4 Q522.6,622.2 523.4,626 L524,632 L516.6,631 Z" fill="#f1f1f4" stroke="#111" stroke-width="1.44" stroke-linejoin="round" stroke-linecap="round" />
<path d="M519.6,623.6 V631" fill="none" stroke="#111" stroke-width="1.08" stroke-linejoin="round" stroke-linecap="round" />
<path d="M517.6,632 L525.6,634.4 L526.6,641 L519,638.6 Z" fill="#2a2a2a" stroke="#111" stroke-width="1.08" stroke-linejoin="round" stroke-linecap="round" />
<rect x="523.4" y="636.6" width="3.2" height="3.2" rx="0" fill="#f2f2f2" stroke="#333" stroke-width="0.6"/>
<path d="M516.6,631 L519.4,642 M521.4,640 L522.6,645" fill="none" stroke="#111" stroke-width="1.08" stroke-linejoin="round" stroke-linecap="round" />
<path d="M527.6,637.6 L539.6,641.4" fill="none" stroke="#111" stroke-width="1.08" stroke-linejoin="round" stroke-linecap="round" />
<path d="M534,639.6 L542.6,643.4 L542.4,652.6 L536.4,657 L531.6,650.6 L529,646 Z" fill="#1c1c1c" stroke="#111" stroke-width="0.84" stroke-linejoin="round" stroke-linecap="round" />
<path d="M534.6,643 L540.4,646 M533,647.6 L538.4,650.6 M536.4,653.4 L540.6,650.4" fill="none" stroke="#e6e6e6" stroke-width="1.08" stroke-linejoin="round" stroke-linecap="round" />
<path d="M534.8,655 L538.2,655.6 Q539,670 538,685.6 L534.8,684 Q536,670 534.8,655 Z" fill="#1c1c1c" stroke="#111" stroke-width="0.72" stroke-linejoin="round" stroke-linecap="round" />
<path d="M541.8,652 V686" fill="none" stroke="#111" stroke-width="1.08" stroke-linejoin="round" stroke-linecap="round" />
<path d="M531,682.6 L538,685.6 L542.8,684 L542.8,701.6 L540,702.4 L530.6,688 Z" fill="#1c1c1c" stroke="#111" stroke-width="0.84" stroke-linejoin="round" stroke-linecap="round" />
<path d="M534.6,688 L538.6,694.6 M538.6,688.6 L541,692 M537,696.6 L540.6,699.6" fill="none" stroke="#e6e6e6" stroke-width="1.08" stroke-linejoin="round" stroke-linecap="round" />
<path d="M514.6,644.6 Q521,643.4 526.6,647.4 Q533.6,654 533.8,668 Q533.4,680 526.6,684.6 Q521,686.6 516,683" fill="none" stroke="#111" stroke-width="1.56" stroke-linejoin="round" stroke-linecap="round" />
<path d="M516,647.6 Q522.4,647 527,652.6 Q531.6,660 531,670 Q530,679.4 524.6,682.6" fill="none" stroke="#111" stroke-width="1.2" stroke-linejoin="round" stroke-linecap="round" />
<path d="M519.6,687 L526.6,684.6" fill="none" stroke="#111" stroke-width="1.2" stroke-linejoin="round" stroke-linecap="round" />
<circle cx="525.8" cy="668.2" r="5.3" fill="#1c1c1c" stroke="#111" stroke-width="1.56" />
<path d="M522.4,665.4 Q525.6,662.6 529.4,664.6" fill="none" stroke="#f0f0f0" stroke-width="1.32" stroke-linejoin="round" stroke-linecap="round" />
<path d="M523,670.8 Q526,673 529,671" fill="none" stroke="#aaa" stroke-width="1.08" stroke-linejoin="round" stroke-linecap="round" />
<path d="M521.6,671.6 L516.6,681 M520.6,665 L515.4,662.6" fill="none" stroke="#111" stroke-width="1.32" stroke-linejoin="round" stroke-linecap="round" />
<path d="M494.8,660 Q494.6,656.8 499,655.2 Q505,653.6 511,654.2 Q517,654.6 518.2,656.4 Q518,658.4 512.6,660.8 Q505.6,664.2 499.4,663.6 Q495.2,662.8 494.8,660 Z" fill="#f1f1f4" stroke="#111" stroke-width="1.68" stroke-linejoin="round" stroke-linecap="round" />
<ellipse cx="503.2" cy="657.2" rx="3.9" ry="1.7" fill="none" stroke="#111" stroke-width="1.2" transform="rotate(0 503.2 657.2)"/>
<path d="M513.6,662.6 V681.4 M511.6,663.6 V682.2" fill="none" stroke="#111" stroke-width="1.2" stroke-linejoin="round" stroke-linecap="round" />
<path d="M498.6,686 Q505,689.6 511,687.2 Q514.6,685.6 515.7,683" fill="none" stroke="#111" stroke-width="1.44" stroke-linejoin="round" stroke-linecap="round" />
</g>
<g id="icons">
<path d="M591.7,764.5 L594.3,766.3 V795 L591.7,792.3 Z" fill="#b4b4b4" stroke="#3a3a3a" stroke-width="0.84" stroke-linejoin="round" stroke-linecap="round" />
<path d="M591.7,764.5 L626.6,758.5 L629.2,760.2 L594.3,766.3 Z" fill="#dcdcdc" stroke="#3a3a3a" stroke-width="0.84" stroke-linejoin="round" stroke-linecap="round" />
<path d="M594.3,766.3 L629.2,760.2 V789.5 L594.3,795 Z" fill="#f6f6f6" stroke="#3a3a3a" stroke-width="0.84" stroke-linejoin="round" stroke-linecap="round" />
<path d="M596.1,768.2 L627.7,763.4 V787.3 L596.1,792 Z" fill="#0c0c0c" stroke="#0c0c0c" stroke-width="0.36" stroke-linejoin="round" stroke-linecap="round" />
<path d="M623.2,794.5 V779 Q623.2,777.2 625.4,777.2 H626.8 V774.2 Q623.2,773.8 623.2,771.6 Q623.4,768.8 629.3,768.8 Q635.3,768.8 635.5,771.6 Q635.5,773.8 632,774.2 V777.2 H633.4 Q635.5,777.2 635.5,779 V794.5 Z" fill="#f6f6f6" stroke="#666" stroke-width="0.84" stroke-linejoin="round" stroke-linecap="round" />
<text x="592.8" y="808.0" font-size="8.8" text-anchor="start" font-weight="bold" fill="#222" letter-spacing="0" textLength="17.6" lengthAdjust="spacingAndGlyphs">max.</text>
<text x="616.9" y="808.0" font-size="8.8" text-anchor="start" font-weight="bold" fill="#222" letter-spacing="0" textLength="17.5" lengthAdjust="spacingAndGlyphs">10kg</text>
<path d="M662.8,767.4 Q660.4,764.6 660.9,761.8 Q661.6,758 665.4,757.9 Q667.8,758 669.4,759.4 Q681.4,768.8 693.4,759.4 Q695,758 697.4,757.9 Q701.2,758 701.9,761.8 Q702.4,764.6 700,767.4 Q690,778.4 700,789.8 Q702.4,792.6 701.9,795.4 Q701.2,799.4 697.4,799.5 Q695,799.4 693.4,798 Q681.4,788.2 669.4,798 Q667.8,799.4 665.4,799.5 Q661.6,799.4 660.9,795.4 Q660.4,792.6 662.8,789.8 Q673,778.4 662.8,767.4 Z" fill="none" stroke="#3c3c3c" stroke-width="1.02" stroke-linejoin="round" stroke-linecap="round" />
<circle cx="663.7" cy="761.5" r="1.1" fill="#3c3c3c" stroke="#111" stroke-width="0.0" />
<circle cx="699.0" cy="761.5" r="1.1" fill="#3c3c3c" stroke="#111" stroke-width="0.0" />
<circle cx="663.7" cy="796.0" r="1.1" fill="#3c3c3c" stroke="#111" stroke-width="0.0" />
<circle cx="699.0" cy="796.0" r="1.1" fill="#3c3c3c" stroke="#111" stroke-width="0.0" />
<circle cx="668.4" cy="765.6" r="1.1" fill="#3c3c3c" stroke="#111" stroke-width="0.0" />
<circle cx="694.4" cy="765.6" r="1.1" fill="#3c3c3c" stroke="#111" stroke-width="0.0" />
<circle cx="668.4" cy="791.8" r="1.1" fill="#3c3c3c" stroke="#111" stroke-width="0.0" />
<circle cx="694.4" cy="791.8" r="1.1" fill="#3c3c3c" stroke="#111" stroke-width="0.0" />
<text x="668.9" y="781.7" font-size="8.8" text-anchor="start" font-weight="bold" fill="#222" letter-spacing="0" textLength="24.9" lengthAdjust="spacingAndGlyphs">75/100</text>
<text x="660.0" y="810.0" font-size="8.6" text-anchor="start" font-weight="bold" fill="#222" letter-spacing="0" textLength="43.9" lengthAdjust="spacingAndGlyphs">STANDARD</text>
</g>
</svg>
</body></html>
